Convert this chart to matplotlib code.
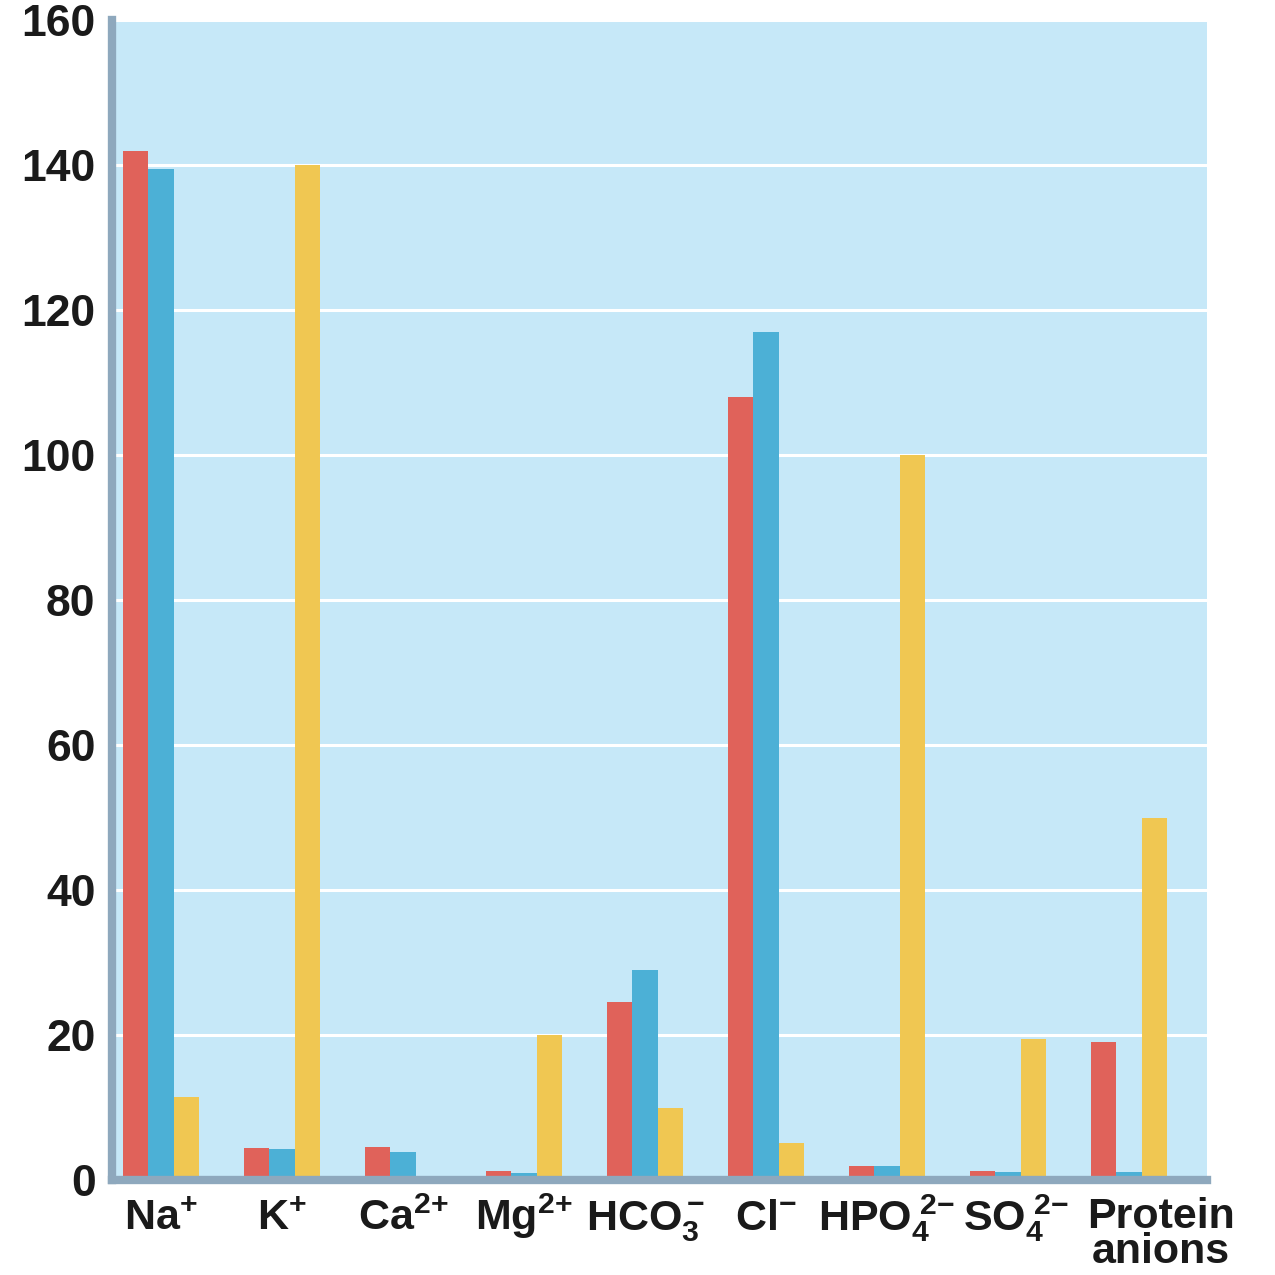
import matplotlib
matplotlib.use("Agg")
import matplotlib.pyplot as plt
import matplotlib.transforms as mtransforms
import numpy as np

categories = [r"$\mathbf{Na^{{+}}}$", r"$\mathbf{K^{{+}}}$", r"$\mathbf{Ca^{2{+}}}$",
              r"$\mathbf{Mg^{2{+}}}$", r"$\mathbf{HCO_{3}^{\,{-}}}$", r"$\mathbf{Cl^{{-}}}$",
              r"$\mathbf{HPO_{4}^{\ 2{-}}}$", r"$\mathbf{SO_{4}^{\ 2{-}}}$", "Protein\nanions"]
plasma = [142, 4.4, 4.6, 1.2, 24.5, 108, 1.9, 1.2, 19]
interstitial = [139.5, 4.3, 3.9, 1.0, 29, 117, 2.0, 1.1, 1.1]
intracellular = [11.5, 140, 0, 20, 10, 5.1, 100, 19.4, 50]
yticks = [0, 20, 40, 60, 80, 100, 120, 140, 160]

plt.rcParams['font.family'] = ['Liberation Sans', 'DejaVu Sans']
plt.rcParams['mathtext.fontset'] = 'custom'
plt.rcParams['mathtext.rm'] = 'Liberation Sans'
plt.rcParams['mathtext.bf'] = 'Liberation Sans:bold'
plt.rcParams['mathtext.it'] = 'Liberation Sans:italic'

fig = plt.figure(figsize=(12.75, 12.75), dpi=100)
ax = fig.add_axes([0.088, 0.0745, 0.859, 0.9095])
ax.set_facecolor('#c6e8f8')

x = np.arange(len(categories))
w = 0.21
ax.bar(x - w, plasma, w, color='#e0625a', zorder=3)
ax.bar(x, interstitial, w, color='#4cb0d6', zorder=3)
ax.bar(x + w, intracellular, w, color='#f0c752', zorder=3)

ax.set_xlim(-0.402, 8.648)
ax.set_ylim(0, 160)
ax.set_yticks(yticks)
ax.set_yticklabels([str(v) for v in yticks], fontsize=32, fontweight='bold', color='#1a1a1a')
ax.yaxis.grid(True, color='white', linewidth=2.2, zorder=1)
ax.set_axisbelow(True)
ax.set_xticks(x)
ax.set_xticklabels(categories, fontsize=31, fontweight='bold', color='#1a1a1a',
                   linespacing=0.85, va='baseline')
ax.tick_params(axis='both', length=0)
ax.tick_params(axis='y', pad=12)
ax.tick_params(axis='x', pad=36)

# nudge the last labels as in the reference
labels = ax.get_xticklabels()
shift = mtransforms.ScaledTranslation(0.32, -0.33, fig.dpi_scale_trans)
labels[-1].set_transform(labels[-1].get_transform() + shift)
shift2 = mtransforms.ScaledTranslation(0.08, 0, fig.dpi_scale_trans)
labels[-2].set_transform(labels[-2].get_transform() + shift2)

for s in ['top', 'right']:
    ax.spines[s].set_visible(False)
for s in ['left', 'bottom']:
    ax.spines[s].set_color('#8ea8bd')
    ax.spines[s].set_linewidth(6)
    ax.spines[s].set_zorder(4)

fig.savefig('out.png', dpi=100, facecolor='white')
